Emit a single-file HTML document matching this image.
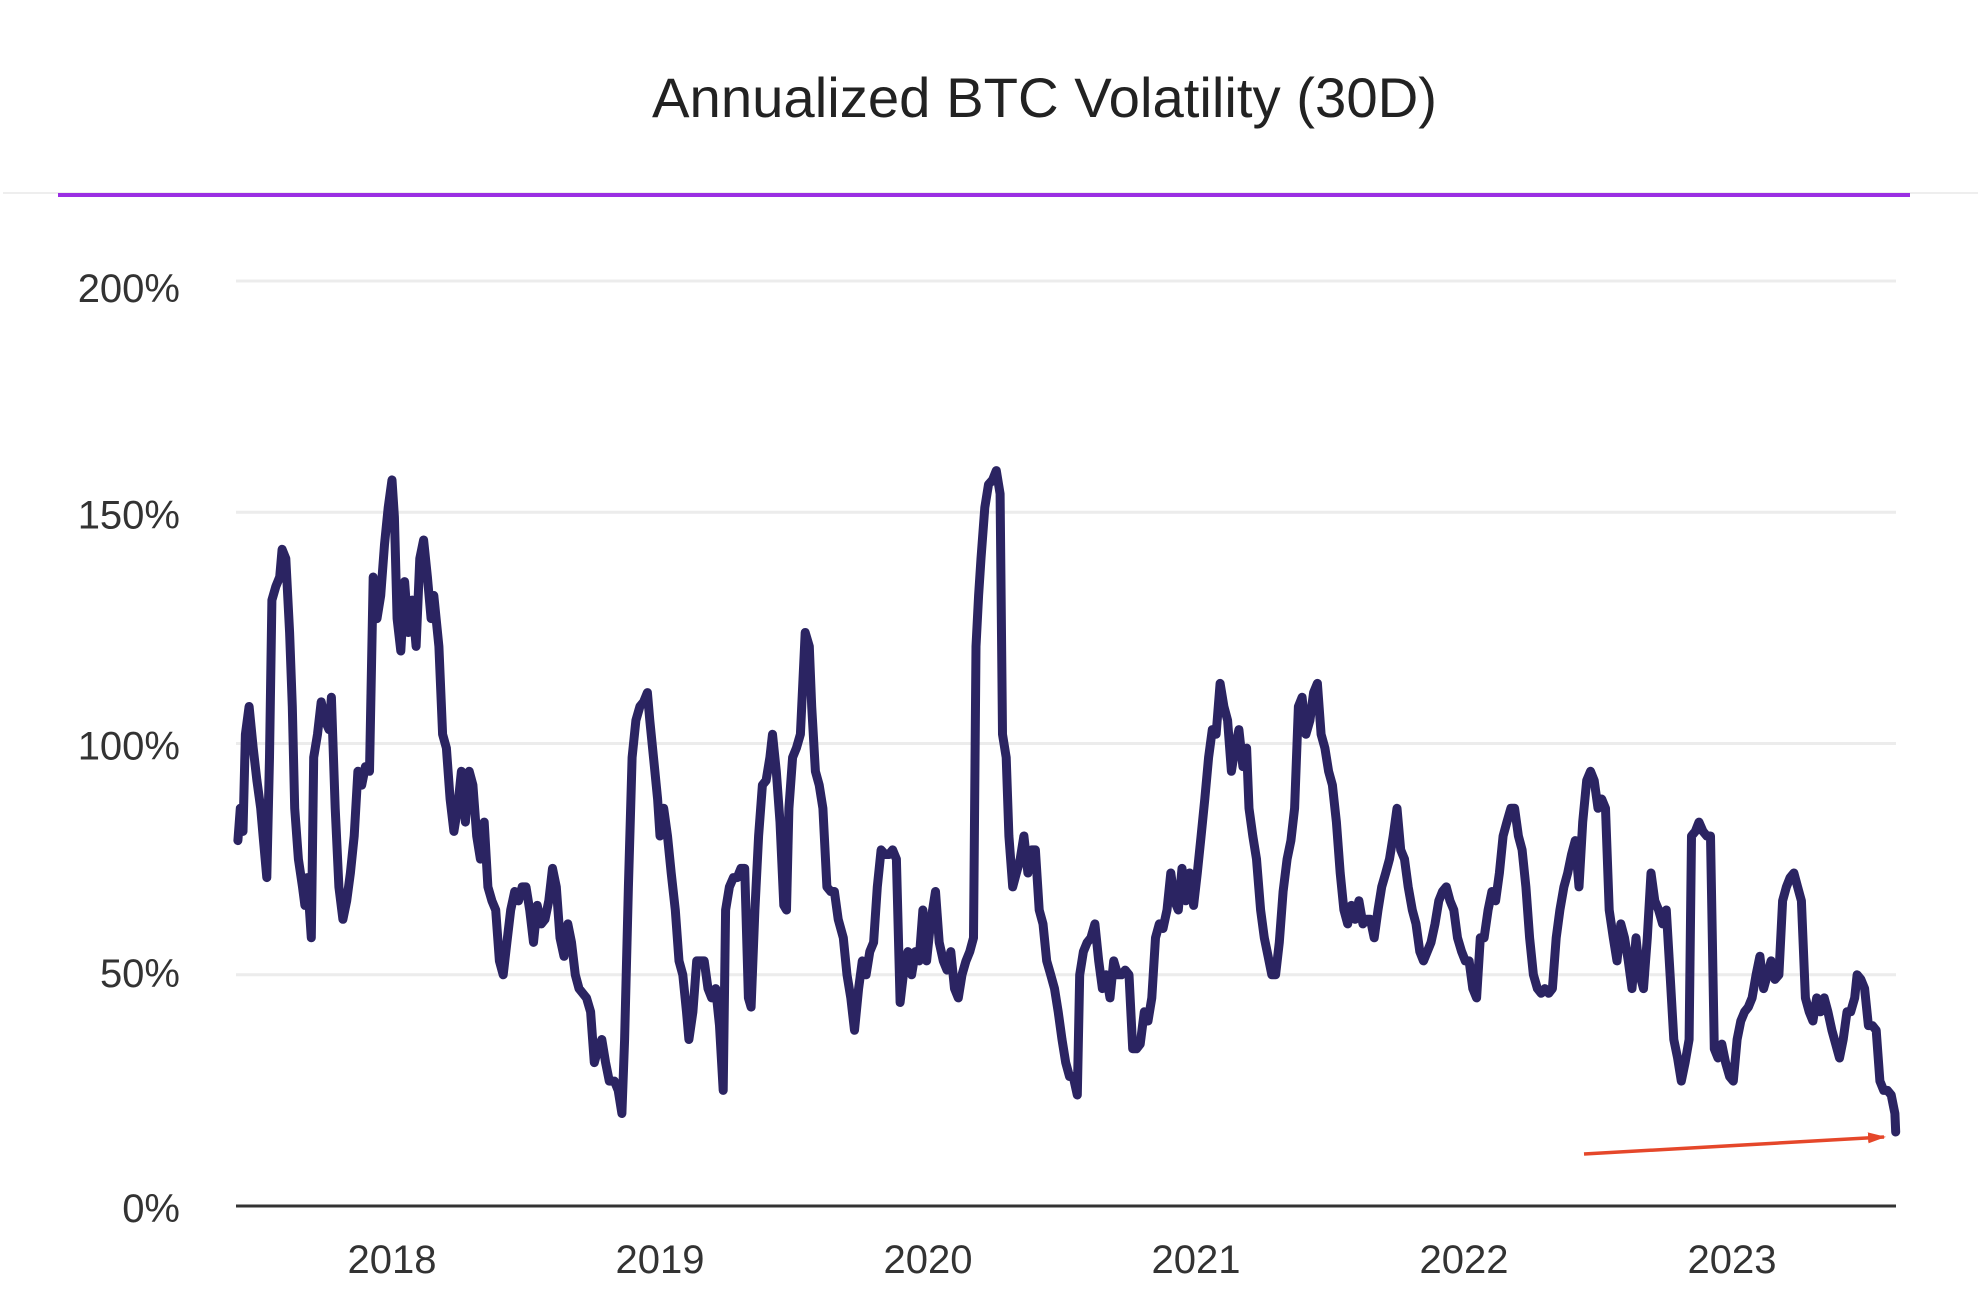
<!DOCTYPE html>
<html><head><meta charset="utf-8"><style>
html,body{margin:0;padding:0;background:#fff;}
svg{display:block;font-family:"Liberation Sans",sans-serif;}
</style></head><body>
<svg id="chart" width="1982" height="1310" viewBox="0 0 1982 1310" xmlns="http://www.w3.org/2000/svg">
<rect width="1982" height="1310" fill="#fff"/>
<text x="652" y="117" font-size="56" fill="#222" textLength="785" lengthAdjust="spacingAndGlyphs">Annualized BTC Volatility (30D)</text>
<line x1="3" y1="193" x2="1978" y2="193" stroke="#eee" stroke-width="2"/>
<line x1="58" y1="195" x2="1910" y2="195" stroke="#9b2fe3" stroke-width="4"/>
<g id="grid"></g><g id="yl"></g><g id="xl"></g>
<line x1="236" y1="1206" x2="1896" y2="1206" stroke="#333" stroke-width="3"/>
<g id="series"></g>
<defs><marker id="ah" markerWidth="18" markerHeight="12" refX="16" refY="6" orient="auto" markerUnits="userSpaceOnUse"><path d="M0,0.5 L18,6 L0,11.5 Z" fill="#e5472a"/></marker></defs>
<line x1="1584" y1="1154" x2="1884" y2="1137" stroke="#e5472a" stroke-width="3.5" marker-end="url(#ah)"/>
</svg>
<script>
const yTicks=[0,50,100,150,200];
const yTickLabels=["0%","50%","100%","150%","200%"];
const yLabelOffsets=[16,12,16,16,21];
const xTicks=[2018,2019,2020,2021,2022,2023];
const xTickLabels=["2018","2019","2020","2021","2022","2023"];
const years=[2017.425,2017.434,2017.444,2017.453,2017.467,2017.482,2017.496,2017.510,2017.519,2017.533,2017.543,2017.552,2017.567,2017.581,2017.590,2017.604,2017.618,2017.628,2017.637,2017.651,2017.666,2017.675,2017.684,2017.699,2017.708,2017.722,2017.736,2017.750,2017.765,2017.774,2017.788,2017.802,2017.817,2017.831,2017.845,2017.859,2017.873,2017.887,2017.901,2017.916,2017.930,2017.944,2017.958,2017.972,2017.986,2018.000,
2018.009,2018.019,2018.033,2018.047,2018.061,2018.075,2018.090,2018.104,2018.118,2018.132,2018.146,2018.156,2018.175,2018.189,2018.203,2018.217,2018.231,2018.245,2018.259,2018.274,2018.288,2018.302,2018.316,2018.330,2018.344,2018.358,2018.373,2018.387,2018.401,2018.415,2018.429,2018.443,2018.458,2018.472,2018.486,2018.500,2018.514,2018.528,2018.542,2018.557,2018.571,2018.585,2018.599,2018.613,2018.627,2018.642,2018.656,2018.670,2018.684,2018.698,2018.712,2018.726,2018.741,2018.755,2018.769,2018.783,2018.797,2018.811,2018.830,2018.844,2018.858,2018.868,2018.882,2018.896,2018.910,2018.925,2018.939,2018.953,2018.962,2018.976,2018.991,2019.000,
2019.014,2019.028,2019.042,2019.057,2019.071,2019.085,2019.099,2019.108,2019.123,2019.137,2019.151,2019.165,2019.179,2019.193,2019.208,2019.222,2019.236,2019.245,2019.259,2019.274,2019.288,2019.302,2019.316,2019.330,2019.340,2019.354,2019.368,2019.382,2019.396,2019.410,2019.420,2019.434,2019.448,2019.462,2019.472,2019.481,2019.495,2019.509,2019.524,2019.533,2019.542,2019.557,2019.566,2019.580,2019.594,2019.608,2019.623,2019.637,2019.651,2019.665,2019.684,2019.698,2019.712,2019.726,2019.741,2019.755,2019.769,2019.783,2019.797,2019.811,2019.825,2019.840,2019.854,2019.868,2019.882,2019.896,2019.910,2019.925,2019.939,2019.953,2019.967,2019.981,2019.995,
2020.009,2020.028,2020.042,2020.057,2020.071,2020.085,2020.099,2020.113,2020.127,2020.142,2020.156,2020.170,2020.179,2020.189,2020.198,2020.212,2020.226,2020.241,2020.255,2020.269,2020.278,2020.292,2020.302,2020.316,2020.330,2020.344,2020.358,2020.373,2020.387,2020.401,2020.415,2020.429,2020.443,2020.458,2020.472,2020.486,2020.500,2020.514,2020.528,2020.542,2020.557,2020.566,2020.580,2020.594,2020.608,2020.623,2020.637,2020.651,2020.665,2020.679,2020.693,2020.708,2020.722,2020.736,2020.750,2020.764,2020.778,2020.792,2020.807,2020.821,2020.835,2020.849,2020.863,2020.877,2020.892,2020.906,2020.920,2020.934,2020.948,2020.962,2020.976,2020.991,
2021.005,2021.019,2021.033,2021.047,2021.061,2021.075,2021.090,2021.104,2021.118,2021.132,2021.146,2021.160,2021.175,2021.189,2021.198,2021.212,2021.226,2021.241,2021.255,2021.269,2021.283,2021.297,2021.311,2021.325,2021.340,2021.354,2021.368,2021.382,2021.396,2021.410,2021.425,2021.439,2021.453,2021.467,2021.481,2021.495,2021.509,2021.524,2021.538,2021.552,2021.566,2021.580,2021.594,2021.608,2021.623,2021.637,2021.651,2021.665,2021.679,2021.693,2021.708,2021.722,2021.736,2021.750,2021.764,2021.778,2021.792,2021.807,2021.821,2021.835,2021.849,2021.863,2021.877,2021.892,2021.906,2021.920,2021.934,2021.948,2021.962,2021.976,2021.991,
2022.005,2022.019,2022.033,2022.047,2022.061,2022.075,2022.090,2022.104,2022.118,2022.132,2022.146,2022.160,2022.175,2022.189,2022.203,2022.217,2022.231,2022.245,2022.259,2022.274,2022.288,2022.302,2022.316,2022.330,2022.344,2022.358,2022.373,2022.387,2022.401,2022.415,2022.429,2022.443,2022.458,2022.472,2022.486,2022.500,2022.514,2022.528,2022.542,2022.557,2022.571,2022.585,2022.599,2022.613,2022.627,2022.642,2022.656,2022.670,2022.684,2022.698,2022.712,2022.726,2022.741,2022.755,2022.769,2022.783,2022.797,2022.811,2022.825,2022.840,2022.849,2022.863,2022.877,2022.892,2022.906,2022.920,2022.934,2022.948,2022.962,2022.976,2022.991,
2023.005,2023.019,2023.033,2023.047,2023.061,2023.075,2023.090,2023.104,2023.118,2023.132,2023.146,2023.160,2023.175,2023.189,2023.203,2023.217,2023.231,2023.245,2023.259,2023.274,2023.288,2023.302,2023.316,2023.330,2023.344,2023.358,2023.373,2023.387,2023.401,2023.415,2023.429,2023.443,2023.458,2023.467,2023.481,2023.495,2023.509,2023.524,2023.538,2023.552,2023.566,2023.580,2023.594,2023.608,2023.611];
const vols=[79,86,81,102,108,99,92,86,80,71,97,131,134,136,142,140,124,108,86,75,69,65,71,58,97,102,109,105,103,110,86,69,62,66,72,80,94,91,95,94,136,127,132,143,151,157,
149,127,120,135,124,131,121,140,144,136,127,132,121,102,99,88,81,86,94,83,94,91,80,75,83,69,66,64,53,50,57,64,68,66,69,69,64,57,65,61,62,66,73,69,58,54,61,57,50,47,46,45,42,31,34,36,31,27,27,25,20,36,69,97,105,108,109,111,105,97,88,80,
86,80,72,64,53,50,42,36,42,53,53,53,47,45,47,39,25,64,69,71,71,73,73,45,43,64,80,91,92,97,102,94,83,65,64,86,97,99,102,113,124,121,108,94,91,86,69,68,68,62,58,50,45,38,47,53,50,55,57,69,77,76,76,77,75,44,51,55,50,55,53,64,53,
61,68,57,53,51,55,47,45,50,53,55,58,121,132,140,151,156,157,159,154,102,97,80,69,72,75,80,72,77,77,64,61,53,50,47,42,36,31,28,28,24,50,55,57,58,61,53,47,50,45,53,50,50,51,50,34,34,35,42,40,45,58,61,60,64,72,66,64,73,66,72,65,
72,80,88,97,103,102,113,108,105,94,99,103,95,99,86,80,75,64,58,54,50,50,57,68,75,79,86,108,110,102,105,111,113,102,99,94,91,83,72,64,61,65,62,66,61,62,62,58,64,69,72,75,80,86,77,75,69,64,61,55,53,55,57,61,66,68,69,66,64,58,55,53,
53,47,45,58,58,64,68,66,72,80,83,86,86,80,77,69,58,50,47,46,47,46,47,58,64,69,72,76,79,69,83,92,94,92,86,88,86,64,58,53,61,58,53,47,58,50,47,58,72,66,64,61,64,50,36,32,27,31,36,80,81,83,81,80,80,34,32,35,31,28,27,
36,40,42,43,45,50,54,47,50,53,49,50,66,69,71,72,69,66,45,42,40,45,42,45,42,38,35,32,36,42,42,45,50,49,47,39,39,38,27,25,25,24,20,16];

const X0=236,X1=1896,Y0=1206,Y1=281;
const D0=2017.418,D1=2023.612;
function xs(t){return X0+(t-D0)/(D1-D0)*(X1-X0);}
function ys(v){return Y0-(v-0)/(200-0)*(Y0-Y1);}
const NS="http://www.w3.org/2000/svg";
const grid=document.getElementById('grid'),yl=document.getElementById('yl'),xl=document.getElementById('xl'),ser=document.getElementById('series');
yTicks.forEach((v,i)=>{
  if(v>0){
    const l=document.createElementNS(NS,'line');
    
    
    l.setAttribute('x1',X0);l.setAttribute('x2',X1);
    l.setAttribute('y1',ys(v));l.setAttribute('y2',ys(v));
    l.setAttribute('stroke','#ececec');l.setAttribute('stroke-width','3');
    grid.appendChild(l);
  }
  const t=document.createElementNS(NS,'text');
  
  
  t.setAttribute('x',180);t.setAttribute('y',ys(v)+yLabelOffsets[i]);
  t.setAttribute('text-anchor','end');t.setAttribute('font-size','40');t.setAttribute('fill','#333');
  t.textContent=yTickLabels[i];
  yl.appendChild(t);
});
xTicks.forEach((yr,i)=>{
  const t=document.createElementNS(NS,'text');
  
  
  t.setAttribute('x',xs(yr));t.setAttribute('y',1273);
  t.setAttribute('text-anchor','middle');t.setAttribute('font-size','40');t.setAttribute('fill','#333');
  t.textContent=xTickLabels[i];
  xl.appendChild(t);
});
let d='';
for(let i=0;i<vols.length;i++){d+=(i?'L':'M')+xs(years[i]).toFixed(1)+','+ys(vols[i]).toFixed(1);}
const p=document.createElementNS(NS,'path');


p.setAttribute('d',d);p.setAttribute('fill','none');p.setAttribute('stroke','#2b2462');
p.setAttribute('stroke-width','9');p.setAttribute('stroke-linejoin','round');p.setAttribute('stroke-linecap','round');
ser.appendChild(p);
</script>
</body></html>
